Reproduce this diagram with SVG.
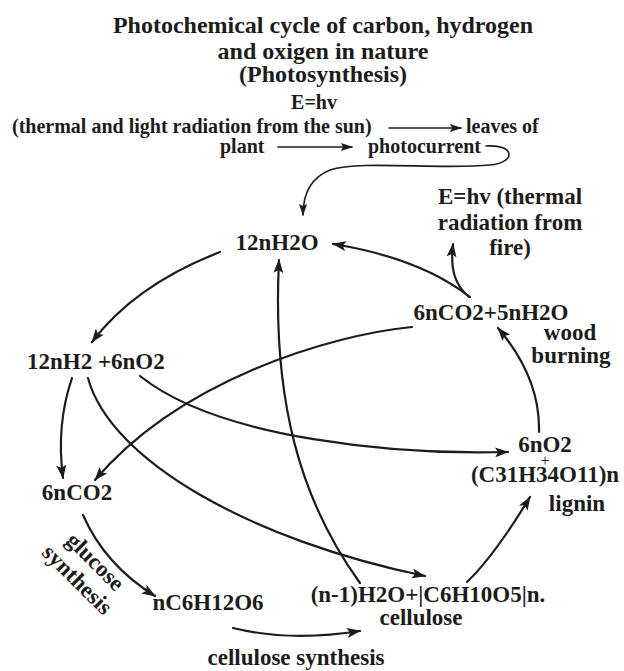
<svg xmlns="http://www.w3.org/2000/svg" width="624" height="671" viewBox="0 0 624 671">
<style>
text{font-family:"Liberation Serif","Times New Roman",serif;font-weight:bold;fill:#1c1c1c}
.t{font-size:24px;text-anchor:middle}
.s{font-size:20px}
.n{font-size:23px}
.c{text-anchor:middle}
.p{font-size:16px;font-weight:normal;text-anchor:middle}
.e{fill:none;stroke:#1c1c1c;stroke-width:2.2;stroke-linecap:round}
.th{stroke-width:1.6}
</style>
<defs>
<marker id="a" viewBox="0 0 14 10" refX="13" refY="5" markerWidth="14" markerHeight="10" markerUnits="userSpaceOnUse" orient="auto">
<path d="M0,0 L14,5 L0,10 L3,5 z" fill="#1c1c1c"/>
</marker>
<marker id="b" viewBox="0 0 12 8" refX="11" refY="4" markerWidth="12" markerHeight="8" markerUnits="userSpaceOnUse" orient="auto">
<path d="M0,0 L12,4 L0,8 L2,4 z" fill="#1c1c1c"/>
</marker>
</defs>
<rect width="624" height="671" fill="#ffffff"/>
<g id="title">
<text class="t" x="323" y="33">Photochemical cycle of carbon, hydrogen</text>
<text class="t" x="323" y="59">and oxigen in nature</text>
<text class="t" x="323" y="82">(Photosynthesis)</text>
</g>
<g id="sun">
<text class="s c" x="314" y="109">E=hv</text>
<text class="s" x="12" y="133">(thermal and light radiation from the sun)</text>
<text class="s" x="466" y="133">leaves of</text>
<text class="s" x="220" y="153">plant</text>
<text class="s" x="368" y="153">photocurrent</text>
</g>
<g id="n-h2o">
<text class="n c" x="277" y="250">12nH2O</text>
</g>
<g id="n-fire">
<text class="n c" x="510" y="204">E=hv (thermal</text>
<text class="n c" x="510" y="230">radiation from</text>
<text class="n c" x="510" y="255">fire)</text>
</g>
<g id="n-co2h2o">
<text class="n c" x="491" y="320">6nCO2+5nH2O</text>
</g>
<g id="n-wood">
<text class="n c" x="570" y="340">wood</text>
<text class="n c" x="571" y="363">burning</text>
</g>
<g id="n-h2o2">
<text class="n" x="27" y="369">12nH2 +6nO2</text>
</g>
<g id="n-lignin">
<text class="n c" x="545" y="452">6nO2</text>
<text class="p" x="545" y="466">+</text>
<text class="n c" x="545" y="482">(C31H34O11)n</text>
<text class="n c" x="577" y="511">lignin</text>
</g>
<g id="n-co2">
<text class="n c" x="77" y="500">6nCO2</text>
</g>
<g id="n-glucose-label">
<text class="n c" transform="translate(95,562) rotate(45)" y="7">glucose</text>
<text class="n c" transform="translate(77,580) rotate(45)" y="7">synthesis</text>
</g>
<g id="n-glucose">
<text class="n c" x="208" y="610">nC6H12O6</text>
</g>
<g id="n-cellulose">
<text class="n c" x="428" y="602">(n-1)H2O+|C6H10O5|n.</text>
<text class="n c" x="421" y="625">cellulose</text>
</g>
<g id="n-cellsynth">
<text class="n c" x="296" y="665">cellulose synthesis</text>
</g>
<g id="connectors">
<path class="e th" d="M389 128 L461 128" marker-end="url(#b)"/>
<path class="e th" d="M278 147 L352 147" marker-end="url(#b)"/>
<path class="e th" d="M486 146 C516 144 516 163 490 165 C440 170 360 160 330 170 C310 178 303 195 303 215" marker-end="url(#b)"/>
<path class="e" d="M220 252 Q135 285 92 342" marker-end="url(#a)"/>
<path class="e" d="M72 378 Q56 425 63 478" marker-end="url(#a)"/>
<path class="e" d="M412 327 C330 335 180 380 95 480" marker-end="url(#a)"/>
<path class="e" d="M88 378 C110 460 250 540 425 576" marker-end="url(#a)"/>
<path class="e" d="M140 376 C220 440 400 455 508 452" marker-end="url(#a)"/>
<path class="e" d="M360 583 C300 500 272 400 279 260" marker-end="url(#a)"/>
<path class="e" d="M470 297 Q420 258 333 244" marker-end="url(#a)"/>
<path class="e" d="M469 297 C455 285 450 270 453 244" marker-end="url(#a)"/>
<path class="e" d="M539 432 C540 395 525 360 498 328" marker-end="url(#a)"/>
<path class="e" d="M83 515 Q105 565 155 596" marker-end="url(#a)"/>
<path class="e" d="M233 628 Q290 642 360 631" marker-end="url(#a)"/>
<path class="e" d="M467 582 C490 560 510 530 530 497" marker-end="url(#a)"/>
</g>
</svg>
